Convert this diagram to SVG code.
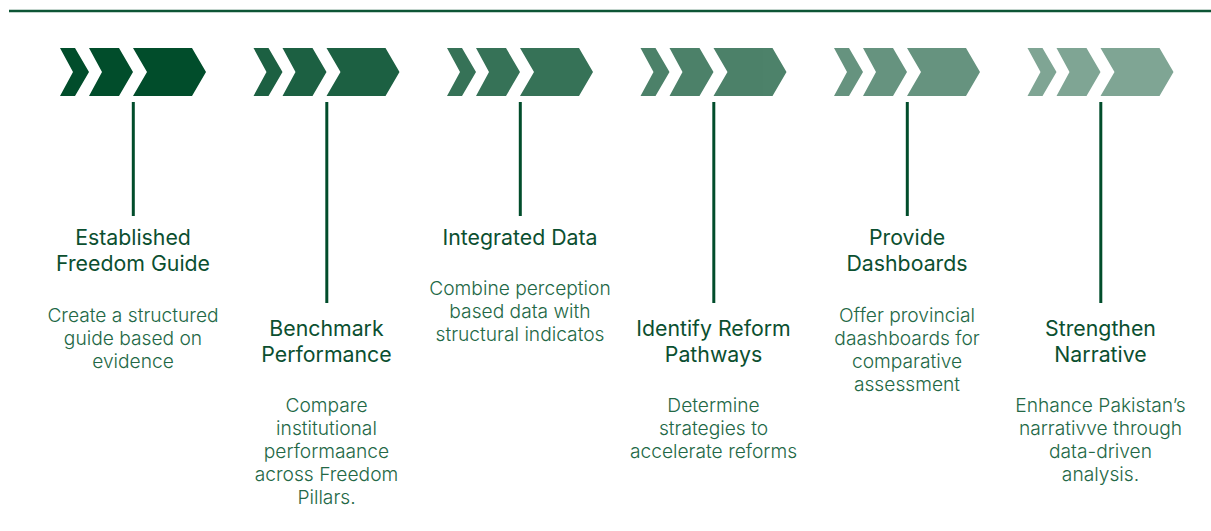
<svg xmlns="http://www.w3.org/2000/svg" width="1211" height="531" viewBox="0 0 1211 531">
<style>
.chev{fill:#014d2b}
.conn{stroke:#014d2b;stroke-width:3;fill:none}
.top{stroke:#0d5535;stroke-width:2.5}
.t{font-family:Inter,"Liberation Sans",sans-serif;font-size:21.3px;fill:#0b4f30;text-anchor:middle}
.d{font-family:Inter,"Liberation Sans",sans-serif;font-size:19.2px;font-weight:300;fill:#236846;text-anchor:middle}
</style>
<defs>
<g id="chevs">
<polygon points="0,0 15,0 29,24 15,48 0,48 13,24"/>
<polygon points="29,0 59,0 73,24 59,48 29,48 42,24"/>
<polygon points="73,0 132,0 146,24 132,48 73,48 87,24"/>
</g>
</defs>
<rect width="1211" height="531" fill="#ffffff"/>
<line class="top" x1="9" y1="11" x2="1211" y2="11"/>
<g id="connectors">
<line class="conn" x1="133.3" y1="102" x2="133.3" y2="216"/>
<line class="conn" x1="326.8" y1="102" x2="326.8" y2="303"/>
<line class="conn" x1="520.3" y1="102" x2="520.3" y2="216"/>
<line class="conn" x1="713.8" y1="102" x2="713.8" y2="303"/>
<line class="conn" x1="907.3" y1="102" x2="907.3" y2="216"/>
<line class="conn" x1="1100.8" y1="102" x2="1100.8" y2="303"/>
</g>
<g id="node1">
<use href="#chevs" class="chev" x="60" y="48"/>
<text class="t" x="133" y="245">Established</text>
<text class="t" x="133" y="271">Freedom Guide</text>
<text class="d" x="133" y="322">Create a structured</text>
<text class="d" x="133" y="345">guide based on</text>
<text class="d" x="133" y="368">evidence</text>
</g>
<g id="node2">
<use href="#chevs" class="chev" x="253.5" y="48" opacity="0.89"/>
<text class="t" x="326.5" y="336">Benchmark</text>
<text class="t" x="326.5" y="362">Performance</text>
<text class="d" x="326.5" y="412">Compare</text>
<text class="d" x="326.5" y="435">institutional</text>
<text class="d" x="326.5" y="458">performaance</text>
<text class="d" x="326.5" y="481">across Freedom</text>
<text class="d" x="326.5" y="504">Pillars.</text>
</g>
<g id="node3">
<use href="#chevs" class="chev" x="447" y="48" opacity="0.79"/>
<text class="t" x="520" y="245">Integrated Data</text>
<text class="d" x="520" y="295">Combine perception</text>
<text class="d" x="520" y="318">based data with</text>
<text class="d" x="520" y="341">structural indicatos</text>
</g>
<g id="node4">
<use href="#chevs" class="chev" x="640.5" y="48" opacity="0.7"/>
<text class="t" x="713.5" y="336">Identify Reform</text>
<text class="t" x="713.5" y="362">Pathways</text>
<text class="d" x="713.5" y="412">Determine</text>
<text class="d" x="713.5" y="435">strategies to</text>
<text class="d" x="713.5" y="458">accelerate reforms</text>
</g>
<g id="node5">
<use href="#chevs" class="chev" x="834" y="48" opacity="0.6"/>
<text class="t" x="907" y="245">Provide</text>
<text class="t" x="907" y="271">Dashboards</text>
<text class="d" x="907" y="322">Offer provincial</text>
<text class="d" x="907" y="345">daashboards for</text>
<text class="d" x="907" y="368">comparative</text>
<text class="d" x="907" y="391">assessment</text>
</g>
<g id="node6">
<use href="#chevs" class="chev" x="1027.5" y="48" opacity="0.5"/>
<text class="t" x="1100.5" y="336">Strengthen</text>
<text class="t" x="1100.5" y="362">Narrative</text>
<text class="d" x="1100.5" y="412">Enhance Pakistan’s</text>
<text class="d" x="1100.5" y="435">narrativve through</text>
<text class="d" x="1100.5" y="458">data-driven</text>
<text class="d" x="1100.5" y="481">analysis.</text>
</g>
</svg>
